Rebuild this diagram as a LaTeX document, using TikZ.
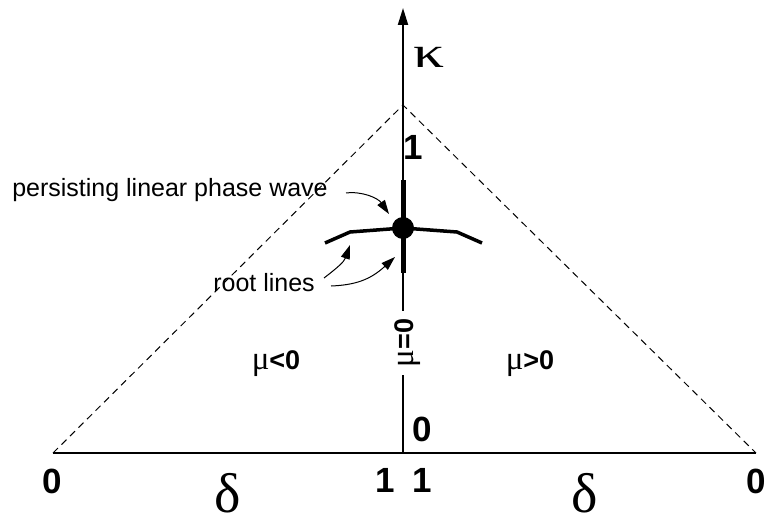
\documentclass[tikz,border=0pt]{standalone}
\usepackage{fontspec}
\setmainfont{Liberation Sans}
\newfontfamily\grk{Liberation Serif}
\usetikzlibrary{arrows.meta}
\newcommand{\mug}{{\fontsize{33}{33}\selectfont\grk\mdseries μ}}
\tikzset{
  num/.style={font=\fontsize{35}{35}\selectfont\bfseries, inner sep=0pt},
  lbl/.style={font=\fontsize{25}{25}\selectfont, inner sep=0pt},
  mulbl/.style={font=\fontsize{27}{27}\selectfont\bfseries, inner sep=0pt},
  greekbig/.style={font=\fontsize{56}{56}\selectfont\grk, inner sep=0pt},
  axisline/.style={line width=2pt},
  dashline/.style={line width=1pt, dash pattern=on 7pt off 5pt},
  pointer/.style={line width=1pt, -{Triangle[length=14pt,width=9pt]}},
}
\begin{document}
\begin{tikzpicture}[x=1pt,y=-1pt]
\useasboundingbox (0,0) rectangle (768,527);
% key points
\coordinate (L) at (53,453);
\coordinate (R) at (756,453);
\coordinate (O) at (403,453);
\coordinate (A) at (403,105);
\coordinate (T) at (403,8);
% triangle
\draw[dashline] (L) -- (A) -- (R);
% axes
\draw[axisline] (L) -- (R);
\draw[axisline, -{Triangle[length=17pt,width=10pt]}] (O) -- (T);
% mu=0 label interrupting axis
\node[mulbl, fill=white, rotate=90, inner xsep=8pt, inner ysep=2pt] (mu0) at (408,343) {\mug=0};
% thick segment
\coordinate (S1) at (403,180);
\coordinate (S2) at (403,273);
\draw[line width=5pt] (S1) -- (S2);
% root line
\coordinate (r1) at (325,243);
\coordinate (r2) at (350,232);
\coordinate (r3) at (403,228);
\coordinate (r4) at (457,232);
\coordinate (r5) at (482,243);
\draw[line width=3.5pt, line join=round] (r1) -- (r2) -- (r3) -- (r4) -- (r5);
% dot
\fill (r3) circle (11pt);
\node[inner sep=0pt] (dot) at (r3) {};
% labels
\node[inner sep=0pt, font=\fontsize{44}{44}\selectfont\grk] (kappa) at (429,57) {\scalebox{1.4}[1]{κ}};
\node[num] (one) at (413,147) {1};
\node[num] (zeroax) at (422,429) {0};
\node[mulbl] (muneg) at (276,364) {\mug<0};
\node[mulbl] (mupos) at (530,364) {\mug>0};
\node[num] (zl) at (52,481) {0};
\node[num] (onel) at (385,480) {1};
\node[num] (oner) at (422,480) {1};
\node[num] (zr) at (756,481) {0};
\node[greekbig] (dl) at (228,493) {δ};
\node[greekbig] (dr) at (585,493) {δ};
% annotations
\node[lbl] (plpw) at (170,190) {persisting linear phase wave};
\node[lbl] (root) at (264,283) {root lines};
\coordinate (p0) at (346,193);
\coordinate (p1) at (389,214);
\draw[pointer] (p0) .. controls (362,191) and (378,198) .. (p1);
\coordinate (q0) at (324,278);
\coordinate (q1) at (350,245);
\draw[pointer] (q0) .. controls (337,268) and (344,262) .. (q1);
\coordinate (s0) at (331,286);
\coordinate (s1) at (395,257);
\draw[pointer] (s0) .. controls (355,285) and (370,280) .. (s1);
\end{tikzpicture}
\end{document}
